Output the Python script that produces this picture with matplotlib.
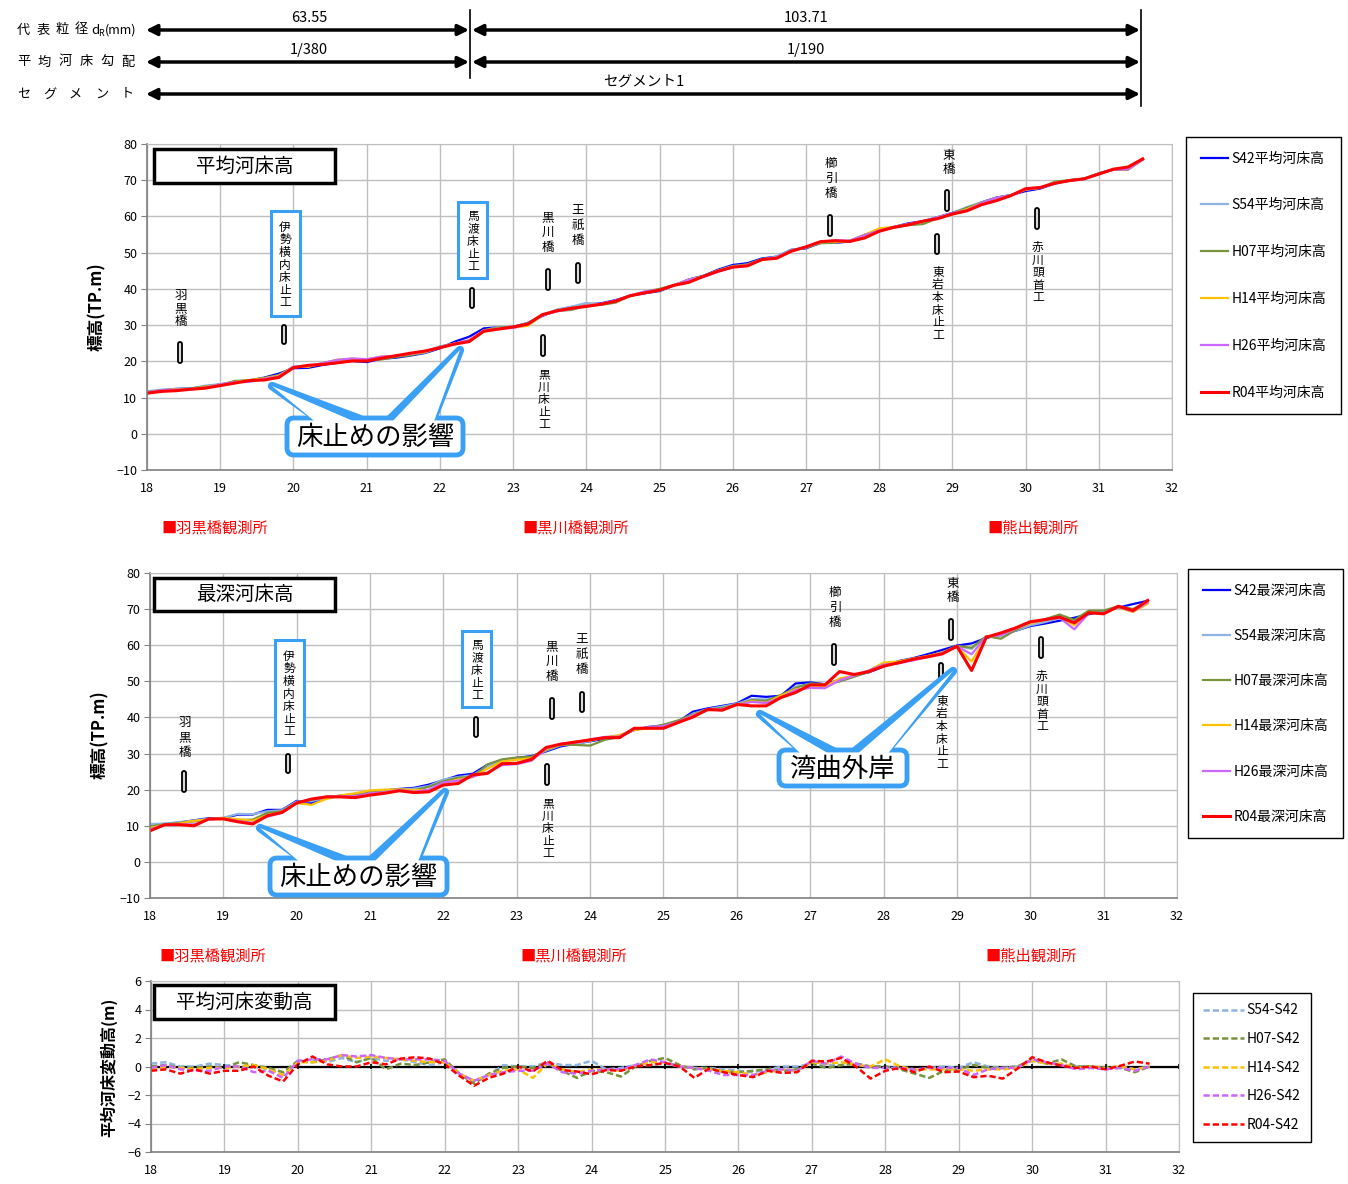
import numpy as np
import matplotlib.pyplot as plt
from matplotlib.patches import FancyBboxPatch, Rectangle, Polygon

plt.rcParams['font.family'] = ['Noto Sans CJK JP', 'DejaVu Sans']

# distance (km), one section every 200 m
km = np.round(np.arange(18.0, 31.61, 0.2), 1)

# mean bed height S42 (TP.m)
mean_s42 = [11.5, 11.9, 12.4, 12.5, 13.1, 13.6, 14.3, 14.7, 15.5, 16.6,
            18.1, 18.2, 19.0, 19.6, 20.1, 19.8, 20.7, 21.0, 21.6, 22.3,
            23.6, 25.4, 26.8, 29.1, 29.4, 29.5, 30.6, 32.5, 34.2, 35.0,
            35.7, 36.0, 36.9, 38.1, 38.8, 39.4, 41.0, 42.6, 43.6, 45.3,
            46.6, 47.1, 48.4, 48.9, 50.8, 51.2, 52.7, 52.7, 53.1, 54.9,
            56.2, 57.1, 58.1, 58.7, 59.8, 61.0, 62.3, 63.9, 65.2, 65.9,
            67.0, 67.7, 69.1, 70.0, 70.4, 71.9, 73.0, 73.3, 75.7]

# mean bed change vs S42 (m)
d_s54 = [0.2, 0.3, 0.0, 0.0, 0.2, 0.1, 0.0, 0.0, -0.2, -0.5,
         0.3, 0.5, 0.3, 0.6, 0.3, 0.6, 0.4, 0.5, 0.3, 0.1,
         0.3, -0.6, -1.0, -0.6, 0.1, 0.0, 0.0, 0.3, 0.1, 0.1,
         0.4, -0.2, -0.1, 0.1, 0.1, 0.2, 0.0, -0.1, -0.1, -0.2,
         -0.3, -0.4, -0.2, 0.0, 0.0, 0.2, 0.1, 0.1, 0.2, 0.0,
         0.0, -0.1, -0.3, -0.1, 0.0, -0.1, 0.3, 0.0, -0.1, 0.0,
         0.4, 0.2, 0.1, 0.0, 0.0, -0.1, 0.0, -0.2, 0.0]
d_h07 = [0.0, 0.1, -0.1, -0.1, 0.0, -0.1, 0.3, 0.1, -0.1, -0.4,
         0.4, 0.3, 0.5, 0.8, 0.3, 0.6, -0.2, 0.2, 0.1, 0.3,
         0.5, -0.5, -1.2, -0.5, -0.1, 0.0, -0.1, 0.2, -0.3, -0.8,
         -0.3, -0.4, -0.7, 0.0, 0.4, 0.6, 0.1, -0.2, -0.1, -0.4,
         -0.4, -0.3, -0.2, -0.3, -0.2, 0.2, -0.1, 0.1, 0.2, 0.0,
         0.0, -0.2, -0.5, -0.8, -0.3, -0.2, 0.1, -0.1, -0.1, 0.0,
         0.5, 0.2, 0.5, 0.0, 0.0, -0.1, -0.1, -0.4, 0.0]
d_h14 = [-0.2, 0.0, -0.1, -0.2, -0.1, -0.1, 0.0, 0.1, -0.2, -0.6,
         0.3, 0.3, 0.4, 0.8, 0.6, 0.7, 0.6, 0.5, 0.4, 0.3,
         0.3, -0.5, -1.0, -0.6, -0.3, -0.2, -0.8, 0.2, -0.2, -0.4,
         -0.2, -0.2, -0.3, 0.1, 0.3, 0.3, 0.0, -0.1, -0.2, -0.3,
         -0.4, -0.6, -0.4, -0.2, -0.3, 0.3, 0.2, 0.3, 0.1, 0.0,
         0.5, 0.0, -0.2, -0.2, -0.2, -0.2, -0.3, -0.2, -0.2, -0.1,
         0.4, 0.2, 0.2, -0.1, 0.0, -0.1, 0.0, -0.2, 0.0]
d_h26 = [-0.1, 0.1, -0.2, -0.3, -0.3, 0.0, 0.0, -0.4, -0.3, -0.8,
         0.4, 0.5, 0.5, 0.8, 0.7, 0.8, 0.6, 0.5, 0.5, 0.5,
         0.4, -0.5, -1.0, -0.6, -0.4, -0.3, -0.3, 0.2, -0.4, -0.5,
         -0.3, -0.2, -0.2, 0.1, 0.5, 0.3, 0.0, -0.1, -0.3, -0.6,
         -0.6, -0.6, -0.3, -0.2, -0.3, 0.4, 0.2, 0.7, 0.2, -0.1,
         -0.1, -0.1, -0.2, -0.1, -0.1, -0.1, -0.6, -0.2, -0.1, -0.1,
         0.5, 0.3, 0.1, -0.2, -0.1, -0.2, -0.1, -0.3, 0.0]
d_r04 = [-0.3, -0.2, -0.5, -0.2, -0.5, -0.3, -0.3, 0.0, -0.65, -1.05,
         0.15, 0.7, 0.15, 0.0, 0.0, 0.3, 0.15, 0.55, 0.65, 0.55,
         0.15, -0.65, -1.35, -0.8, -0.5, 0.0, -0.35, 0.4, -0.25, -0.35,
         -0.55, -0.25, -0.3, 0.0, 0.1, 0.25, 0.0, -0.8, -0.15, -0.4,
         -0.6, -0.75, -0.3, -0.45, -0.4, 0.4, 0.35, 0.6, 0.0, -0.85,
         -0.3, -0.1, -0.4, 0.0, -0.4, -0.35, -0.75, -0.65, -0.85, -0.15,
         0.65, 0.3, 0.05, -0.1, 0.0, -0.2, 0.05, 0.35, 0.2]

# deepest bed height (TP.m)
deep_s42 = [10.3, 10.5, 10.9, 11.5, 12.1, 12.1, 13.1, 13.1, 14.4, 14.4,
            16.9, 16.3, 18.0, 18.1, 18.6, 19.5, 19.8, 20.2, 20.5, 21.4,
            22.6, 23.9, 24.4, 26.9, 28.1, 28.8, 29.3, 30.6, 32.0, 32.7,
            33.4, 34.1, 34.8, 36.5, 37.4, 37.6, 38.8, 41.6, 42.5, 43.2,
            43.9, 46.0, 45.7, 46.0, 49.4, 49.7, 49.2, 50.4, 51.6, 52.5,
            54.1, 55.6, 56.4, 57.5, 58.7, 59.9, 60.5, 62.0, 63.0, 64.0,
            65.3, 66.0, 66.8, 67.6, 68.6, 69.4, 70.4, 71.4, 72.3]
deep_s54 = [10.5, 10.6, 11.0, 11.4, 12.0, 12.2, 13.3, 13.2, 14.0, 14.3,
            16.7, 16.8, 17.8, 18.2, 18.9, 19.3, 19.6, 20.0, 20.3, 21.0,
            22.8, 23.5, 24.0, 26.5, 28.0, 28.6, 29.0, 30.8, 32.3, 32.6,
            33.5, 34.4, 35.0, 36.8, 37.2, 37.9, 38.9, 41.0, 42.3, 43.0,
            43.8, 45.1, 45.0, 45.5, 48.5, 49.3, 49.0, 50.0, 51.3, 52.6,
            54.8, 55.3, 56.0, 56.9, 57.8, 59.8, 59.0, 62.3, 62.5, 64.0,
            65.5, 66.4, 67.5, 66.8, 69.0, 69.2, 70.6, 70.0, 72.0]
deep_h07 = [9.8, 10.4, 10.8, 11.2, 11.8, 12.0, 11.6, 11.7, 13.6, 14.0,
            16.5, 17.2, 17.9, 18.4, 18.8, 19.5, 19.5, 20.0, 19.8, 20.8,
            22.3, 23.3, 23.5, 27.0, 28.4, 28.9, 29.1, 31.0, 32.5, 32.4,
            32.2, 33.8, 34.6, 36.6, 37.2, 38.0, 39.2, 40.8, 42.2, 42.6,
            43.5, 44.8, 44.6, 46.2, 48.2, 49.4, 49.2, 50.0, 51.3, 52.7,
            54.5, 55.4, 56.2, 57.0, 58.0, 59.8, 59.3, 62.5, 61.8, 64.2,
            66.2, 67.2, 68.5, 67.0, 69.6, 69.6, 70.8, 70.0, 71.9]
deep_h14 = [9.4, 10.2, 10.6, 11.4, 11.7, 12.2, 11.8, 11.4, 12.9, 13.8,
            16.3, 15.8, 17.4, 18.4, 19.0, 19.8, 20.0, 20.1, 19.9, 19.9,
            21.8, 22.8, 23.6, 25.8, 27.8, 28.3, 28.7, 31.2, 32.5, 33.3,
            33.6, 34.5, 35.1, 36.5, 37.0, 37.5, 38.5, 40.6, 42.0, 42.3,
            43.5, 44.5, 44.0, 46.0, 47.8, 48.2, 48.4, 50.8, 51.6, 53.0,
            55.2, 55.5, 56.3, 57.0, 57.9, 59.6, 55.5, 62.3, 62.9, 64.6,
            66.0, 67.0, 67.8, 65.5, 69.0, 68.8, 70.5, 69.2, 71.5]
deep_h26 = [9.0, 10.2, 10.4, 10.4, 11.7, 12.0, 11.3, 10.8, 12.5, 13.6,
            16.4, 17.3, 18.0, 18.2, 18.2, 19.0, 19.3, 19.9, 19.4, 20.0,
            22.0, 22.5, 23.6, 24.8, 26.8, 27.1, 28.0, 31.4, 32.7, 33.0,
            33.9, 34.6, 34.7, 36.8, 37.3, 37.6, 38.8, 40.5, 42.0, 42.3,
            43.4, 44.3, 44.0, 45.5, 47.6, 48.2, 48.1, 50.3, 51.6, 53.0,
            54.6, 55.0, 55.8, 56.7, 57.8, 59.7, 57.5, 62.4, 62.8, 64.6,
            66.3, 67.0, 67.6, 64.4, 68.9, 68.9, 70.6, 69.4, 71.9]
deep_r04 = [8.6, 10.3, 10.3, 10.0, 11.9, 11.9, 11.1, 10.5, 12.8, 13.7,
            16.3, 17.4, 18.0, 18.0, 17.8, 18.5, 19.0, 19.7, 19.2, 19.4,
            21.3, 21.7, 24.1, 24.5, 27.2, 27.3, 28.4, 31.7, 32.6, 33.2,
            33.8, 34.4, 34.4, 37.0, 37.0, 37.0, 38.6, 40.1, 42.2, 42.0,
            43.6, 43.2, 43.2, 45.5, 46.9, 49.0, 49.0, 52.7, 51.9, 52.7,
            54.2, 55.1, 56.1, 56.8, 57.6, 59.7, 53.0, 62.2, 63.4, 64.8,
            66.5, 67.1, 67.8, 66.2, 69.0, 68.7, 70.8, 69.6, 72.4]

years = ['S42', 'S54', 'H07', 'H14', 'H26', 'R04']
colors = ['#0000FF', '#8DB4E2', '#77933C', '#FFC000', '#CC66FF', '#FF0000']
BLUE = '#3AA0F5'

W, H = 1348, 1184
fig = plt.figure(figsize=(W / 100, H / 100), dpi=100)


def px_axes(l, t, r, b):
    return fig.add_axes([l / W, 1 - b / H, (r - l) / W, (b - t) / H])


def style(ax, ylim, yticks):
    ax.set_xlim(18, 32)
    ax.set_ylim(*ylim)
    ax.set_xticks(range(18, 33))
    ax.set_yticks(yticks)
    ax.grid(True, color='#BFBFBF', lw=1)
    ax.set_axisbelow(True)
    for s in ['top', 'right']:
        ax.spines[s].set_color('#BFBFBF')
    for s in ['left', 'bottom']:
        ax.spines[s].set_color('#808080')
        ax.spines[s].set_linewidth(1.2)
    ax.tick_params(axis='y', labelsize=9, length=4, color='#808080', pad=3)
    ax.tick_params(axis='x', labelsize=9, length=0, pad=9)


ax1 = px_axes(147, 144, 1172, 470)
ax2 = px_axes(150, 573, 1177, 898)
ax3 = px_axes(151, 981, 1179, 1152)

# panel 1: mean bed height
mean_series = [np.array(mean_s42)] + [np.array(mean_s42) + np.array(d)
                                      for d in [d_s54, d_h07, d_h14, d_h26, d_r04]]
h1 = []
for y, c, v in zip(years, colors, mean_series):
    ln, = ax1.plot(km, v, color=c, lw=2.2 if y == 'R04' else 1.6, label=y + '平均河床高')
    h1.append(ln)
style(ax1, (-10, 80), range(-10, 81, 10))

# panel 2: deepest bed height
h2 = []
for y, c, v in zip(years, colors, [deep_s42, deep_s54, deep_h07, deep_h14, deep_h26, deep_r04]):
    ln, = ax2.plot(km, v, color=c, lw=2.2 if y == 'R04' else 1.6, label=y + '最深河床高')
    h2.append(ln)
style(ax2, (-10, 80), range(-10, 81, 10))

# panel 3: mean bed change
h3 = []
for y, c, d in zip(years[1:], colors[1:], [d_s54, d_h07, d_h14, d_h26, d_r04]):
    ln, = ax3.plot(km, d, color=c, lw=1.8, ls='--', dashes=(2.5, 1.2), label=y + '-S42')
    h3.append(ln)
ax3.axhline(0, color='k', lw=1.6, zorder=1)
ax3.vlines(range(18, 33), -0.15, 0.15, color='k', lw=1.2)
style(ax3, (-6, 6), range(-6, 7, 2))

leg_kw = dict(loc='upper left', fontsize=10, frameon=True, fancybox=False,
              edgecolor='k', framealpha=1, borderaxespad=0, handletextpad=0.2)
l1 = fig.legend(handles=h1, bbox_to_anchor=(1186 / W, 1 - 137 / H),
                labelspacing=2.36, borderpad=1.05, handlelength=2.0, **leg_kw)
l2 = fig.legend(handles=h2, bbox_to_anchor=(1188 / W, 1 - 569 / H),
                labelspacing=2.25, borderpad=1.05, handlelength=2.0, **leg_kw)
l3 = fig.legend(handles=h3, bbox_to_anchor=(1193 / W, 1 - 993 / H),
                labelspacing=1.05, borderpad=0.75, handlelength=2.9, **leg_kw)
for lg in (l1, l2, l3):
    lg.get_frame().set_linewidth(1.0)

# overlay in pixel coordinates for annotations
ov = fig.add_axes([0, 0, 1, 1], zorder=5)
ov.set_xlim(0, W)
ov.set_ylim(H, 0)
ov.axis('off')

# header rows, characters spread out
for yy, lab, step in [(30, '代表粒径', 19.2), (62, '平均河床勾配', 20.8), (94, 'セグメント', 26.0)]:
    for i, ch in enumerate(lab):
        ov.text(17 + i * step, yy, ch, ha='left', va='center', fontsize=9.5)
ov.text(91, 30, 'd', ha='left', va='center', fontsize=9.5)
ov.text(98.5, 33, 'R', ha='left', va='center', fontsize=6.5)
ov.text(105, 30, '(mm)', ha='left', va='center', fontsize=9)

arr = dict(arrowstyle='<|-|>', lw=2.5, color='k', mutation_scale=16, shrinkA=0, shrinkB=0)
for yy in (30, 62):
    ov.annotate('', xy=(469, yy), xytext=(146, yy), arrowprops=arr)
    ov.annotate('', xy=(1140, yy), xytext=(472, yy), arrowprops=arr)
ov.annotate('', xy=(1140, 94), xytext=(146, 94), arrowprops=arr)
ov.plot([470, 470], [10, 78], color='k', lw=1.2)
ov.plot([1141, 1141], [10, 106], color='k', lw=1.2)
ov.text(309, 18, '63.55', ha='center', va='center', fontsize=10.5)
ov.text(806, 18, '103.71', ha='center', va='center', fontsize=10.5)
ov.text(309, 50, '1/380', ha='center', va='center', fontsize=10.5)
ov.text(806, 50, '1/190', ha='center', va='center', fontsize=10.5)
ov.text(644, 82, 'セグメント1', ha='center', va='center', fontsize=10.5)

# axis titles
ov.text(97, 307, '標高(TP.m)', rotation=90, ha='center', va='center', fontsize=12, fontweight='bold')
ov.text(100, 735, '標高(TP.m)', rotation=90, ha='center', va='center', fontsize=12, fontweight='bold')
ov.text(109, 1067, '平均河床変動高(m)', rotation=90, ha='center', va='center', fontsize=11.5, fontweight='bold')

# panel titles
for (x0, y0, x1, y1, s) in [(154, 149, 335, 183, '平均河床高'), (154, 578, 335, 611, '最深河床高'),
                            (154, 985, 335, 1019, '平均河床変動高')]:
    ov.add_patch(Rectangle((x0, y0), x1 - x0, y1 - y0, fc='white', ec='k', lw=2.5))
    ov.text((x0 + x1) / 2, (y0 + y1) / 2, s, ha='center', va='center', fontsize=14)

# gauging stations
for yy, dx in ((528, 0), (956, -2)):
    ov.text(161 + dx, yy, '■羽黒橋観測所', color='red', ha='left', va='center', fontsize=11)
    ov.text(522 + dx, yy, '■黒川橋観測所', color='red', ha='left', va='center', fontsize=11)
    ov.text(987 + dx, yy, '■熊出観測所', color='red', ha='left', va='center', fontsize=11)


def vtext(x, top, s, step, size=9):
    # vertical writing, one character per row
    for i, ch in enumerate(s):
        ov.text(x, top + step * (i + 0.5), ch, ha='center', va='center', fontsize=size)


def marker(x, y0, y1):
    ov.add_patch(FancyBboxPatch((x - 2, y0), 4, y1 - y0, boxstyle='round,pad=0,rounding_size=2',
                                fc='#D9D9D9', ec='k', lw=1.3))


def bluebox(x0, y0, x1, y1):
    ov.add_patch(Rectangle((x0, y0), x1 - x0, y1 - y0, fc='white', ec=BLUE, lw=2.2))


def callout(box, ptrs, label):
    x0, y0, x1, y1 = box
    for p in ptrs:
        ov.add_patch(Polygon(p, closed=True, fc='white', ec=BLUE, lw=6, joinstyle='round', zorder=1))
    ov.add_patch(FancyBboxPatch((x0, y0), x1 - x0, y1 - y0, boxstyle='round,pad=0,rounding_size=7',
                                fc='white', ec=BLUE, lw=3.5, zorder=2))
    for p in ptrs:
        q = [(p[0][0], p[0][1] + 5), p[1], (p[2][0], p[2][1] + 5)]
        ov.add_patch(Polygon(q, closed=True, fc='white', ec='none', zorder=3))
    ov.text((x0 + x1) / 2, (y0 + y1) / 2 + 1, label, ha='center', va='center', fontsize=19, zorder=4)


def stations(dy, dx, big):
    vtext(181 + dx, 289 + dy - (3 if dy else 0), '羽黒橋', big)
    marker(180 + dx, 342 + dy, 363 + dy)
    bluebox(271 + dx, 211 + dy, 300 + dx, 316 + dy)
    vtext(285 + dx, 221 + dy, '伊勢横内床止工', 12.6, 8.5)
    marker(284 + dx, 325 + dy, 344 + dy)
    bluebox(458 + dx, 202 + dy, 487 + dx, 278 + dy)
    vtext(473 + dx, 210 + dy, '馬渡床止工', 12.6, 8.5)
    marker(472 + dx, 288 + dy, 308 + dy)
    vtext(548 + dx, 210 + dy, '黒川橋', 15)
    marker(548 + dx, 269 + dy, 290 + dy)
    vtext(578 + dx, 203 + dy, '王祇橋', 15)
    marker(578 + dx, 263 + dy, 283 + dy)
    marker(543 + dx, 335 + dy, 356 + dy)
    vtext(544 + dx, 368 + dy, '黒川床止工', 12.6, 8.5)
    vtext(831 + dx, 156 + dy, '櫛引橋', 15)
    marker(830 + dx, 215 + dy, 236 + dy)
    vtext(949 + dx, 148 + dy, '東橋', 14)
    marker(947 + dx, 190 + dy, 211 + dy)
    marker(937 + dx, 234 + dy, 254 + dy)
    vtext(938 + dx, 266 + dy, '東岩本床止工', 12.6, 8.5)
    marker(1037 + dx, 208 + dy, 229 + dy)
    vtext(1038 + dx, 241 + dy, '赤川頭首工', 12.6, 8.5)


stations(0, 0, 13)
stations(429, 4, 15)

callout((287, 418, 463, 455),
        [[(318, 419), (272, 386), (360, 419)], [(390, 419), (460, 350), (433, 419)]],
        '床止めの影響')
callout((270, 858, 447, 895),
        [[(302, 859), (260, 828), (343, 859)], [(372, 859), (445, 792), (417, 859)]],
        '床止めの影響')
callout((779, 750, 907, 786),
        [[(803, 751), (760, 714), (833, 751)], [(855, 751), (953, 671), (886, 751)]],
        '湾曲外岸')

fig.savefig('out.png', dpi=100)
